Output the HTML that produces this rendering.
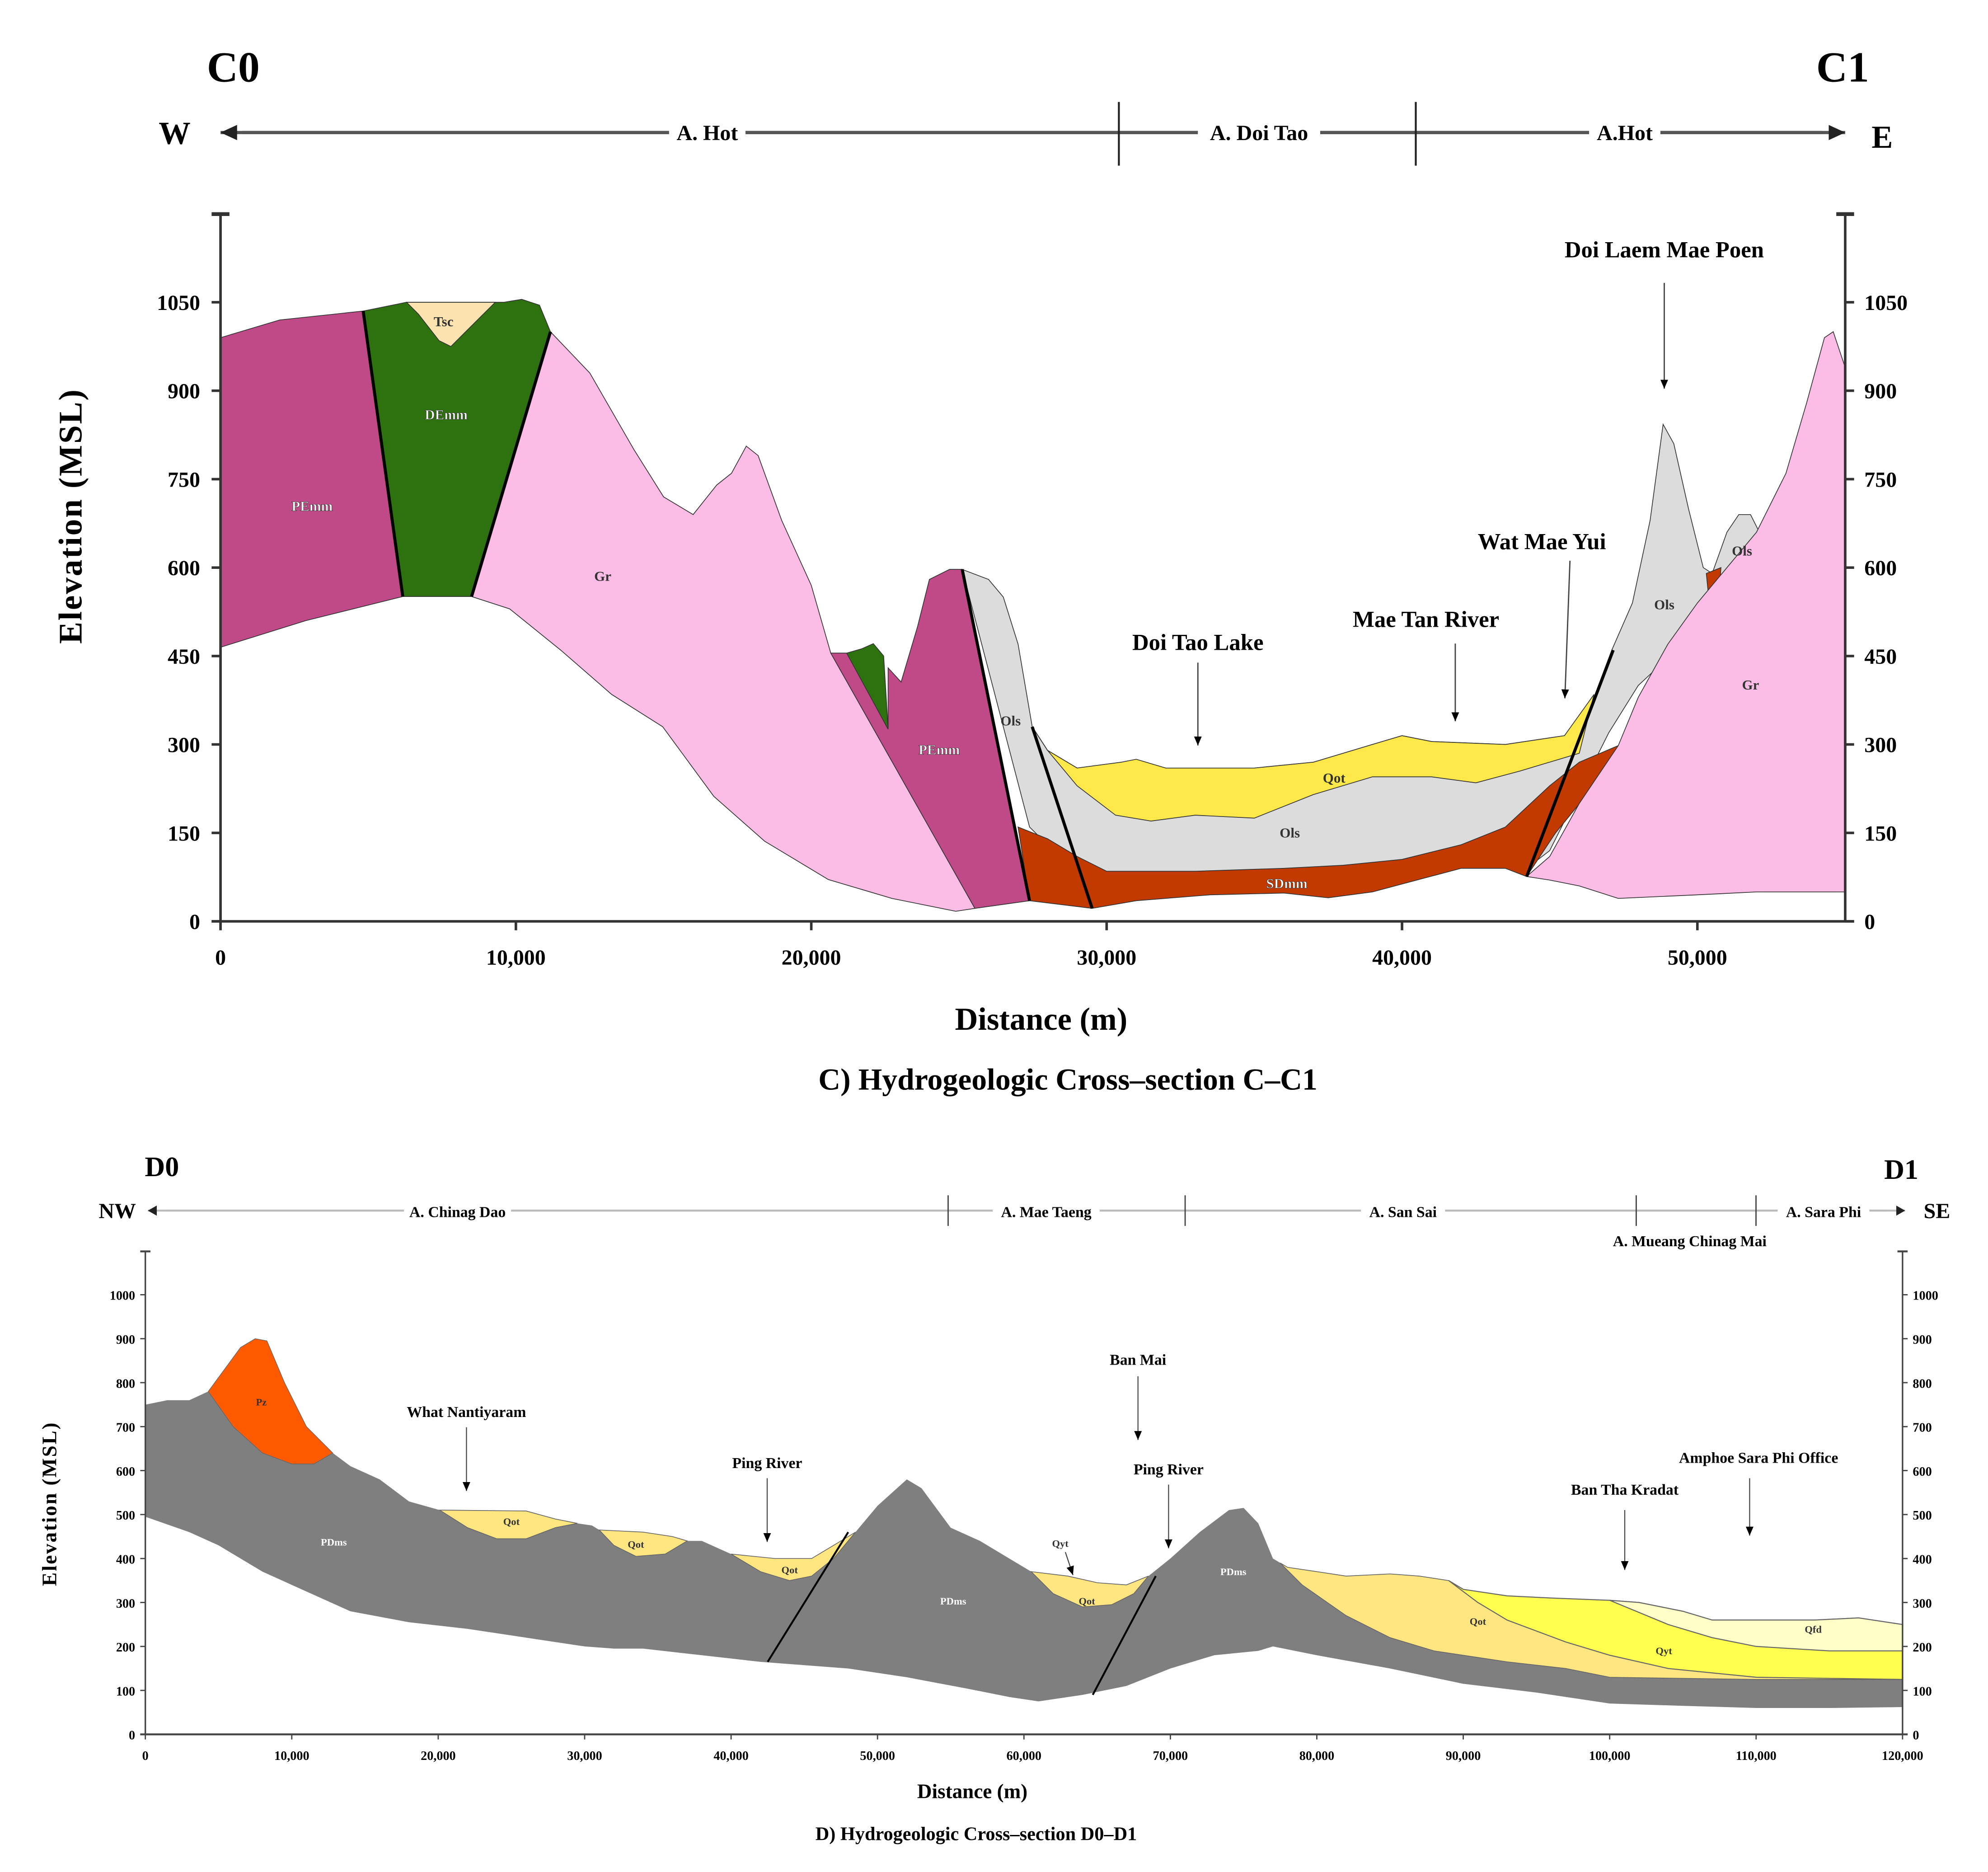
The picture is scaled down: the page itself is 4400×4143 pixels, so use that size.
<!DOCTYPE html>
<html><head><meta charset="utf-8"><style>
html,body{margin:0;padding:0;background:#fff}
svg{display:block}
text{font-family:"Liberation Serif",serif;font-weight:bold}
</style></head><body>
<svg id="fig" width="4400" height="4143" viewBox="0 0 1560 1469" xmlns="http://www.w3.org/2000/svg">
<g id="top"></g>
<g id="bot"></g>
</svg>
<script>
// ---------- Top chart data (distance m, elevation m) ----------
const cXTicks=[0,10000,20000,30000,40000,50000];
const cXTickLabels=["0","10,000","20,000","30,000","40,000","50,000"];
const cYTicks=[0,150,300,450,600,750,900,1050];
const cPEmm1=[[0,990],[2000,1020],[4830,1035],[6170,551],[2890,510],[0,465]];
const cDEmm=[[4830,1035],[6300,1050],[9600,1050],[10200,1055],[10800,1045],[11170,1000],[8500,551],[6170,551]];
const cTsc=[[6300,1050],[9300,1050],[8300,1000],[7800,975],[7400,985],[6700,1030]];
const cGr1=[[11170,1000],[12500,930],[14000,800],[15000,720],[16000,690],[16800,740],[17300,760],[17800,806],[18200,790],[19000,680],[20000,570],[20660,455],[25540,22],[24890,17],[22730,39],[20580,71],[18420,136],[16700,212],[14970,330],[13240,385],[11520,460],[9790,530],[8500,551]];
const cPEmm2=[[20660,455],[21200,455],[22600,326],[22600,430],[23040,406],[23600,500],[24000,580],[24680,597],[25110,597],[27390,35],[25540,22]];
const cDEmm2=[[21200,455],[21700,462],[22100,471],[22450,450],[22600,326]];
const cOls=[[25110,597],[26000,580],[26500,550],[27000,470],[27480,330],[28000,290],[29000,260],[30500,270],[32000,260],[35000,260],[37000,270],[39000,300],[40000,315],[41000,305],[43500,300],[45500,315],[46500,380],[47100,460],[47800,540],[48400,680],[48840,843],[49200,810],[49700,700],[50200,600],[50500,590],[51000,660],[51400,690],[51800,690],[52300,640],[51000,560],[49500,470],[48000,400],[47000,320],[45000,120],[44220,90],[42000,110],[38000,80],[33000,70],[30000,70],[28000,130],[27390,160]];
const cQot=[[27480,330],[28000,290],[29000,260],[30500,270],[31000,275],[32000,260],[35000,260],[37000,270],[39000,300],[40000,315],[41000,305],[43500,300],[45500,315],[46500,385],[46000,285],[44000,255],[42500,235],[41000,245],[39000,245],[37000,215],[35000,175],[33000,180],[31500,170],[30300,180],[29000,230],[28000,290]];
const cSDmm=[[27000,160],[27390,35],[29510,22],[31000,35],[33500,45],[36000,48],[37500,40],[39000,50],[40500,70],[42000,90],[43500,90],[44220,76],[45200,150],[46500,230],[47320,298],[46000,270],[45000,230],[43500,160],[42000,130],[40000,105],[38000,95],[36000,90],[33000,85],[30000,85],[29000,110],[28000,140]];
const cSDmm2=[[50300,590],[50800,600],[50700,530],[50400,540]];
const cGr2=[[44220,76],[45000,110],[46000,200],[47320,298],[48000,380],[49000,470],[50000,540],[51000,600],[52000,660],[53000,760],[53700,880],[54300,990],[54600,1000],[55000,940],[55000,50],[52000,50],[50000,45],[47320,39],[46000,60],[45000,70]];
const cFaults=[[[4830,1035],[6170,551]],[[11170,1000],[8500,551]],[[25110,597],[27390,35]],[[27480,330],[29510,22]],[[44220,76],[47150,460]]];
const cLabels=[["PEmm",3100,705],["DEmm",7640,860],["Tsc",7550,1018],["Gr",12940,586],["PEmm",24330,292],["Ols",26750,341],["Qot",37700,244],["Ols",36200,151],["SDmm",36100,65],["Ols",48880,538],["Ols",51510,629],["Gr",51800,402]];

// ---------- Bottom chart data ----------
const dXTicks=[0,10000,20000,30000,40000,50000,60000,70000,80000,90000,100000,110000,120000];
const dXTickLabels=["0","10,000","20,000","30,000","40,000","50,000","60,000","70,000","80,000","90,000","100,000","110,000","120,000"];
const dYTicks=[0,100,200,300,400,500,600,700,800,900,1000];
const dPDms=[[0,750],[1500,760],[3000,760],[4300,780],[6500,880],[7500,900],[8300,895],[9500,800],[11000,700],[12800,640],[14000,610],[16000,580],[18000,530],[20100,510],[26000,508],[28000,490],[29500,480],[30500,475],[31000,465],[34000,460],[36000,450],[37000,440],[38000,440],[40000,410],[43000,400],[45500,400],[47500,440],[48500,460],[50000,520],[52000,580],[53000,560],[55000,470],[57000,440],[59000,400],[60500,370],[63000,360],[65000,345],[67000,340],[68500,360],[70000,400],[72000,460],[74000,510],[75000,515],[76000,480],[77000,400],[78000,380],[80000,370],[82000,360],[85000,365],[87000,360],[89000,350],[90000,330],[93000,315],[96000,310],[100000,305],[102000,300],[105000,280],[107000,260],[114000,260],[117000,265],[120000,250],[120000,62],[115000,60],[110000,60],[105000,65],[100000,70],[95000,95],[90000,115],[85000,150],[80000,180],[77000,200],[76000,190],[73000,180],[70000,150],[67000,110],[64000,90],[61000,75],[59000,85],[56000,105],[52000,130],[48000,150],[42000,165],[38000,180],[34000,195],[32000,195],[30000,200],[26000,220],[22000,240],[18000,255],[14000,280],[10000,340],[8000,370],[5000,430],[3000,460],[0,495]];
const dPz=[[4300,780],[6500,880],[7500,900],[8300,895],[9500,800],[11000,700],[12800,640],[11500,615],[10000,615],[8000,640],[6000,700]];
const dQot1=[[20100,510],[26000,508],[28000,490],[29500,480],[28000,470],[26000,445],[24000,445],[22000,470]];
const dQot2=[[31000,465],[34000,460],[36000,450],[37000,440],[35500,410],[33500,405],[32000,430]];
const dQot3=[[40000,410],[43000,400],[45500,400],[47500,440],[48500,460],[47000,400],[45500,360],[44000,350],[42000,370]];
const dQot4=[[60500,370],[63000,360],[65000,345],[67000,340],[68500,360],[67500,320],[66000,295],[64000,290],[62000,320]];
const dQot5=[[77500,390],[78000,380],[80000,370],[82000,360],[85000,365],[87000,360],[89000,350],[90000,330],[93000,315],[96000,310],[100000,305],[102000,300],[105000,280],[107000,260],[114000,260],[117000,265],[120000,250],[120000,125],[110000,125],[100000,130],[97000,150],[93000,165],[88000,190],[85000,220],[82000,270],[79000,340]];
const dQyt=[[89000,350],[90000,330],[93000,315],[96000,310],[100000,305],[102000,300],[105000,280],[107000,260],[114000,260],[117000,265],[120000,250],[120000,125],[110000,130],[104000,150],[100000,180],[97000,210],[93000,260],[91000,300]];
const dQfd=[[100000,305],[102000,300],[105000,280],[107000,260],[114000,260],[117000,265],[120000,250],[120000,190],[115000,190],[110000,200],[107000,220],[104000,250]];
const dFaults=[[[42500,165],[48000,460]],[[64700,90],[69000,360]]];
const dLabels=[["Pz",7920,757],["PDms",12870,438],["Qot",25000,485],["Qot",33500,433],["Qot",44000,375],["PDms",55170,304],["Qyt",62480,435],["Qot",64300,304],["PDms",74300,371],["Qot",91000,258],["Qyt",103700,191],["Qfd",113900,240]];

const NS="http://www.w3.org/2000/svg";
function mk(parent,tag,attrs,txt){const e=document.createElementNS(NS,tag);for(const k in attrs)e.setAttribute(k,attrs[k]);if(txt!==undefined)e.textContent=txt;parent.appendChild(e);return e;}

// axis functions
const cx=d=>173+d*(1159/50000), cy=e=>723-e*(69.4/150);
const dx=d=>114+d*(1379/120000), dy=e=>1361-e*0.345;
function pts(arr,fx,fy){return arr.map(p=>fx(p[0]).toFixed(1)+","+fy(p[1]).toFixed(1)).join(" ");}

const T=document.getElementById('top'), B=document.getElementById('bot');

// ===== top chart =====
function cpoly(arr,fill,name){const p=mk(T,'polygon',{points:pts(arr,cx,cy),fill:fill,stroke:'#333','stroke-width':0.6});

}
cpoly(cOls,'#dcdcdc','unit-ols');
cpoly(cQot,'#ffe94a','unit-qot');
cpoly(cSDmm,'#c23a00','unit-sdmm');
cpoly(cSDmm2,'#c23a00','unit-sdmm-small');
cpoly(cGr2,'#fbbde5','unit-gr-east');
cpoly(cPEmm1,'#c04a87','unit-pemm-west');
cpoly(cDEmm,'#2e7210','unit-demm');
cpoly(cTsc,'#fde3b0','unit-tsc');
cpoly(cGr1,'#fbbde5','unit-gr-west');
cpoly(cPEmm2,'#c04a87','unit-pemm-central');
cpoly(cDEmm2,'#2e7210','unit-demm-small');
cFaults.forEach((f,i)=>{const l=mk(T,'line',{x1:cx(f[0][0]),y1:cy(f[0][1]),x2:cx(f[1][0]),y2:cy(f[1][1]),stroke:'#000','stroke-width':2.4});

});
cLabels.forEach(L=>{const t=mk(T,'text',{x:cx(L[1]),y:cy(L[2])+4,'font-size':11,'text-anchor':'middle',fill:L[0]==='DEmm'||L[0]==='PEmm'||L[0]==='SDmm'?'#fff':'#333','font-weight':'normal',stroke:L[0]==='DEmm'||L[0]==='PEmm'||L[0]==='SDmm'?'#333':'none','stroke-width':0.3},L[0]);

});
// axes
mk(T,'line',{x1:173,y1:168,x2:173,y2:723,stroke:'#333','stroke-width':2});
mk(T,'line',{x1:1448,y1:168,x2:1448,y2:723,stroke:'#333','stroke-width':2});
mk(T,'line',{x1:166,y1:168,x2:180,y2:168,stroke:'#333','stroke-width':3});
mk(T,'line',{x1:1441,y1:168,x2:1455,y2:168,stroke:'#333','stroke-width':3});
mk(T,'line',{x1:166,y1:723,x2:1455,y2:723,stroke:'#333','stroke-width':2});
cYTicks.forEach(v=>{const y=cy(v);
mk(T,'line',{x1:166,y1:y,x2:173,y2:y,stroke:'#333','stroke-width':2});
mk(T,'line',{x1:1448,y1:y,x2:1455,y2:y,stroke:'#333','stroke-width':2});
const a=mk(T,'text',{x:157,y:y+6,'font-size':17,'text-anchor':'end'},String(v));


const b=mk(T,'text',{x:1463,y:y+6,'font-size':17},String(v));

});
cXTicks.forEach((v,i)=>{const x=cx(v);mk(T,'line',{x1:x,y1:723,x2:x,y2:730,stroke:'#333','stroke-width':2});
const a=mk(T,'text',{x:x,y:757,'font-size':17,'text-anchor':'middle'},cXTickLabels[i]);

});
// ===== bottom chart =====
function dpoly(arr,fill,name,sw){const p=mk(B,'polygon',{points:pts(arr,dx,dy),fill:fill,stroke:sw?'#666':'none','stroke-width':sw||0});

}
dpoly(dPDms,'#7f7f7f','unit-pdms');
dpoly(dPz,'#ff5a00','unit-pz',0.5);
dpoly(dQot1,'#ffe680','unit-qot-1',0.6);
dpoly(dQot2,'#ffe680','unit-qot-2',0.6);
dpoly(dQot3,'#ffe680','unit-qot-3',0.6);
dpoly(dQot4,'#ffe680','unit-qot-4',0.6);
dpoly(dQot5,'#ffe680','unit-qot-5',0.6);
dpoly(dQyt,'#ffff50','unit-qyt',0.8);
dpoly(dQfd,'#ffffc8','unit-qfd',0.8);
dFaults.forEach(f=>{const l=mk(B,'line',{x1:dx(f[0][0]),y1:dy(f[0][1]),x2:dx(f[1][0]),y2:dy(f[1][1]),stroke:'#000','stroke-width':1.5});

});
dLabels.forEach(L=>{const t=mk(B,'text',{x:dx(L[1]),y:dy(L[2])+3,'font-size':8,'text-anchor':'middle','font-weight':'normal',fill:L[0]==='PDms'?'#fff':'#333'},L[0]);

});
mk(B,'line',{x1:114,y1:982,x2:114,y2:1361,stroke:'#444','stroke-width':1.2});
mk(B,'line',{x1:1493,y1:982,x2:1493,y2:1361,stroke:'#444','stroke-width':1.2});
mk(B,'line',{x1:110,y1:1361,x2:1497,y2:1361,stroke:'#444','stroke-width':1.5});
mk(B,'line',{x1:110,y1:982,x2:118,y2:982,stroke:'#444','stroke-width':1.5});
mk(B,'line',{x1:1489,y1:982,x2:1497,y2:982,stroke:'#444','stroke-width':1.5});
dYTicks.forEach(v=>{const y=dy(v);
mk(B,'line',{x1:110,y1:y,x2:114,y2:y,stroke:'#444','stroke-width':1});
mk(B,'line',{x1:1493,y1:y,x2:1497,y2:y,stroke:'#444','stroke-width':1});
const a=mk(B,'text',{x:106,y:y+4,'font-size':10,'text-anchor':'end'},String(v));


const b=mk(B,'text',{x:1501,y:y+4,'font-size':10},String(v));

});
dXTicks.forEach((v,i)=>{const x=dx(v);mk(B,'line',{x1:x,y1:1361,x2:x,y2:1365,stroke:'#444','stroke-width':1});
const a=mk(B,'text',{x:x,y:1381,'font-size':10,'text-anchor':'middle'},dXTickLabels[i]);

});
</script>
<script>
// static annotations (headers, titles, arrows)
(function(){
const NS="http://www.w3.org/2000/svg";const S=document.getElementById('fig');
function m(tag,a,txt,name,inter){const e=document.createElementNS(NS,tag);for(const k in a)e.setAttribute(k,a[k]);if(txt!==undefined)e.textContent=txt;if(name){}S.appendChild(e);return e;}
m('defs',{}).innerHTML='<marker id="ah" markerWidth="8" markerHeight="8" refX="7" refY="4" orient="auto" markerUnits="userSpaceOnUse"><path d="M0,1 L7,4 L0,7 z" fill="#000"/></marker><marker id="ah2" markerWidth="14" markerHeight="12" refX="13" refY="6" orient="auto" markerUnits="userSpaceOnUse"><path d="M0,0 L13,6 L0,12 z" fill="#222"/></marker><marker id="ah3" markerWidth="8" markerHeight="8" refX="7" refY="4" orient="auto" markerUnits="userSpaceOnUse"><path d="M0,0 L7,4 L0,8 z" fill="#222"/></marker>';
m('text',{x:183,y:64,'font-size':34,'text-anchor':'middle'},'C0','c0-label');
m('text',{x:1446,y:64,'font-size':34,'text-anchor':'middle'},'C1','c1-label');
m('text',{x:137,y:113,'font-size':25,'text-anchor':'middle'},'W','west-label');
m('text',{x:1477,y:116,'font-size':25,'text-anchor':'middle'},'E','east-label');
m('line',{x1:190,y1:104,x2:1448,y2:104,stroke:'#555','stroke-width':2.5,'marker-end':'url(#ah2)'},undefined,'district-arrow');
m('line',{x1:1430,y1:104,x2:173,y2:104,stroke:'#555','stroke-width':2.5,'marker-end':'url(#ah2)'});
m('line',{x1:878,y1:80,x2:878,y2:130,stroke:'#222','stroke-width':1.5},undefined,'district-divider');
m('line',{x1:1111,y1:80,x2:1111,y2:130,stroke:'#222','stroke-width':1.5},undefined,'district-divider');
[['A. Hot',555,60],['A. Doi Tao',988,96],['A.Hot',1275,56]].forEach(d=>{m('rect',{x:d[1]-d[2]/2,y:93,width:d[2],height:22,fill:'#fff'});m('text',{x:d[1],y:110,'font-size':17,'text-anchor':'middle'},d[0],'district-label');});
m('text',{x:0,y:0,'font-size':26,'text-anchor':'middle',transform:'translate(64,405) rotate(-90)','font-family':'Liberation Sans, sans-serif','letter-spacing':1},'Elevation (MSL)','y-axis-title');
m('text',{x:817,y:808,'font-size':25,'text-anchor':'middle'},'Distance (m)','x-axis-title');
m('text',{x:838,y:855,'font-size':24,'text-anchor':'middle'},'C) Hydrogeologic Cross–section C–C1','chart-caption');
[['Doi Tao Lake',940,510,940,520,585],['Mae Tan River',1119,492,1142,505,566],['Doi Laem Mae Poen',1306,202,1306,222,305]].forEach(a=>{m('text',{x:a[1],y:a[2],'font-size':18,'text-anchor':'middle'},a[0],'annotation-label');m('line',{x1:a[3],y1:a[4],x2:a[3],y2:a[5],stroke:'#444','stroke-width':1,'marker-end':'url(#ah)'},undefined,'annotation-arrow');});
m('text',{x:1210,y:431,'font-size':18,'text-anchor':'middle'},'Wat Mae Yui','annotation-label');
m('line',{x1:1232,y1:440,x2:1228,y2:548,stroke:'#444','stroke-width':1,'marker-end':'url(#ah)'},undefined,'annotation-arrow');
m('text',{x:127,y:923,'font-size':22,'text-anchor':'middle'},'D0','d0-label');
m('text',{x:1492,y:925,'font-size':22,'text-anchor':'middle'},'D1','d1-label');
m('text',{x:92,y:956,'font-size':17,'text-anchor':'middle'},'NW','northwest-label');
m('text',{x:1520,y:956,'font-size':17,'text-anchor':'middle'},'SE','southeast-label');
m('line',{x1:130,y1:950,x2:1495,y2:950,stroke:'#bbb','stroke-width':1.5,'marker-end':'url(#ah3)'},undefined,'district-arrow');
m('line',{x1:1480,y1:950,x2:116,y2:950,stroke:'#bbb','stroke-width':1.5,'marker-end':'url(#ah3)'});
[744,930,1284,1378].forEach(x=>m('line',{x1:x,y1:938,x2:x,y2:962,stroke:'#444','stroke-width':1},undefined,'district-divider'));
[['A. Chinag Dao',359,84],['A. Mae Taeng',821,84],['A. San Sai',1101,66],['A. Sara Phi',1431,72]].forEach(d=>{m('rect',{x:d[1]-d[2]/2,y:943,width:d[2],height:14,fill:'#fff'});m('text',{x:d[1],y:955,'font-size':12,'text-anchor':'middle'},d[0],'district-label');});
m('text',{x:1326,y:978,'font-size':12,'text-anchor':'middle'},'A. Mueang Chinag Mai','district-label');
m('text',{x:0,y:0,'font-size':16,'text-anchor':'middle',transform:'translate(44,1180) rotate(-90)','font-family':'Liberation Sans, sans-serif','letter-spacing':1},'Elevation (MSL)','y-axis-title-d');
m('text',{x:763,y:1411,'font-size':16,'text-anchor':'middle'},'Distance (m)','x-axis-title-d');
m('text',{x:766,y:1444,'font-size':15,'text-anchor':'middle'},'D) Hydrogeologic Cross–section D0–D1','chart-caption-d');
[['What Nantiyaram',366,1112,366,1120,1170],['Ping River',602,1152,602,1160,1210],['Ban Mai',893,1071,893,1080,1130],['Ping River',917,1157,917,1165,1215],['Ban Tha Kradat',1275,1173,1275,1185,1232],['Amphoe Sara Phi Office',1380,1148,1373,1160,1205]].forEach(a=>{m('text',{x:a[1],y:a[2],'font-size':12,'text-anchor':'middle'},a[0],'annotation-label');m('line',{x1:a[3],y1:a[4],x2:a[3],y2:a[5],stroke:'#444','stroke-width':0.8,'marker-end':'url(#ah)'},undefined,'annotation-arrow');});
m('line',{x1:836,y1:1218,x2:842,y2:1236,stroke:'#444','stroke-width':0.8,'marker-end':'url(#ah)'},undefined,'qyt-arrow');
})();
</script>
</body></html>
